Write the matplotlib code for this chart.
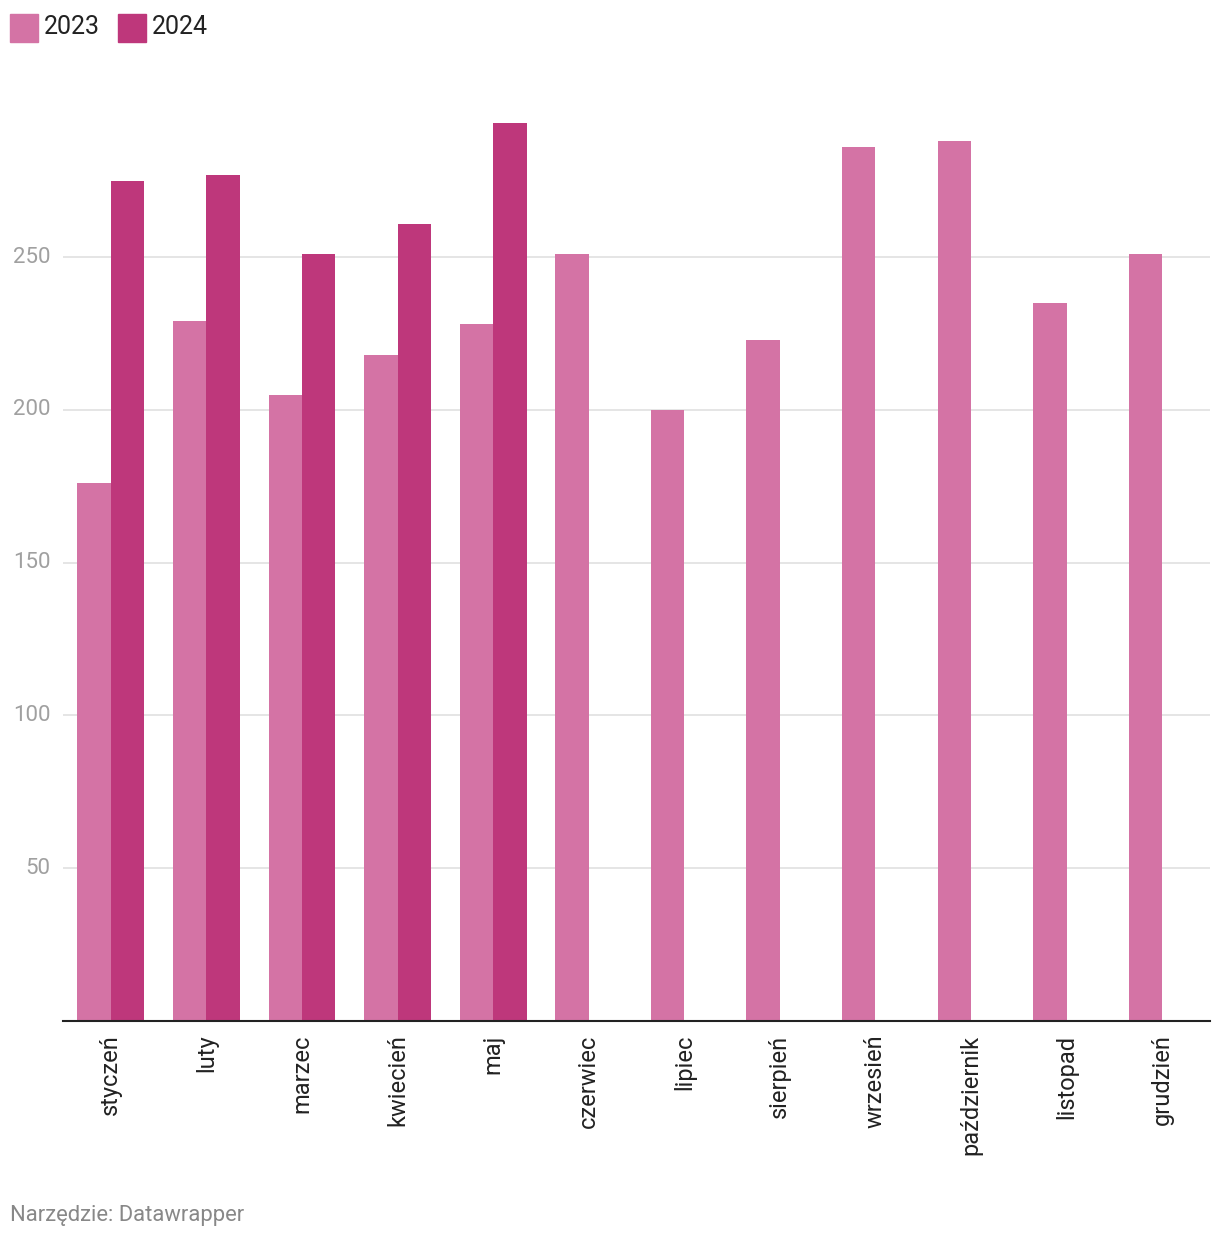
import numpy as np
import matplotlib
matplotlib.use("Agg")
import matplotlib.pyplot as plt
from matplotlib.patches import Rectangle

plt.rcParams["font.family"] = ["Roboto", "DejaVu Sans"]

months = ["styczeń", "luty", "marzec", "kwiecień", "maj", "czerwiec",
          "lipiec", "sierpień", "wrzesień", "październik", "listopad", "grudzień"]
vals_2023 = [176, 229, 205, 218, 228, 251, 200, 223, 286, 288, 235, 251]
vals_2024 = [275, 277, 251, 261, 294]
yticks = [50, 100, 150, 200, 250]

c2023 = "#d473a5"
c2024 = "#be377b"

W, H = 1220, 1240
fig = plt.figure(figsize=(W / 100, H / 100), dpi=100)
ax = fig.add_axes([63 / W, 1 - 1020.7 / H, (1210 - 63) / W, (1020.7 - 104.5) / H])

x = np.arange(len(months))
bw = 0.35
ax.bar(x[:len(vals_2023)] - bw / 2, vals_2023, width=bw, color=c2023,
       linewidth=0, antialiased=False, zorder=2)
ax.bar(x[:len(vals_2024)] + bw / 2, vals_2024, width=bw, color=c2024,
       linewidth=0, antialiased=False, zorder=2)

ax.set_xlim(-0.5, len(months) - 0.5)
ax.set_ylim(0, 300)
ax.set_yticks(yticks)
ax.set_yticklabels([str(v) for v in yticks], fontsize=16, color="#a0a0a0")
ax.yaxis.grid(True, color="#e3e3e3", linewidth=1.3, zorder=0)
ax.tick_params(axis="y", length=0, pad=9)
for lab in ax.get_yticklabels():
    lab.set_verticalalignment("center")

ax.set_xticks(x)
ax.set_xticklabels(months, rotation=90, fontsize=17, color="#222222")
ax.tick_params(axis="x", length=0, pad=10)

for s in ["top", "right", "left"]:
    ax.spines[s].set_visible(False)
ax.spines["bottom"].set_color("#222222")
ax.spines["bottom"].set_linewidth(1.5)
ax.spines["bottom"].set_zorder(3)

# legend drawn by hand, Datawrapper style
for px, col, lab in [(10, c2023, "2023"), (118, c2024, "2024")]:
    fig.patches.append(Rectangle((px / W, 1 - 42 / H), 28 / W, 28 / H,
                                 transform=fig.transFigure, color=col))
    fig.text((px + 34) / W, 1 - 27 / H, lab, fontsize=18, color="#222222",
             va="center", ha="left")

fig.text(10 / W, 1 - 1215 / H, "Narzędzie: Datawrapper", fontsize=15.8,
         color="#888888", va="center", ha="left")

fig.savefig("out.png", dpi=100)
